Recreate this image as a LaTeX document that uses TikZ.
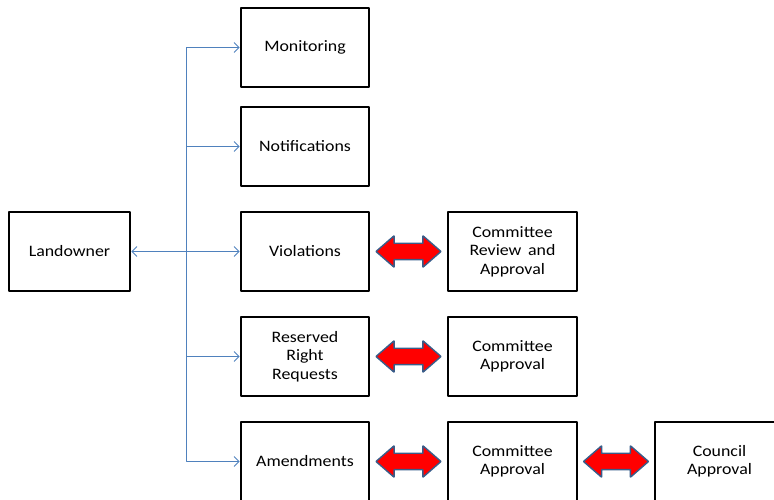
\documentclass[tikz,border=0pt]{standalone}
\usepackage{fontspec}
\setmainfont{Carlito}[FakeStretch=1.12]
\usepackage{tikz}
\usetikzlibrary{arrows,arrows.meta,shapes}

\definecolor{linkblue}{RGB}{79,129,189}
\definecolor{edgeblue}{RGB}{56,93,138}

\begin{document}
\begin{tikzpicture}[>={Straight Barb[length=5bp,width=10bp]},line join=bevel,
  box/.style={draw,line width=1.6bp,minimum width=128bp,minimum height=79bp,
    align=center,inner sep=0pt,font=\fontsize{16}{18.5}\selectfont},
  link/.style={->,linkblue,line width=0.9bp,shorten >=0.5bp},
  both/.style={double arrow,draw=edgeblue,fill=red,line width=1.4bp,
    minimum height=65bp,inner xsep=0pt,inner ysep=7.5bp,double arrow head extend=7.5bp,
    double arrow tip angle=82},]
\useasboundingbox (0bp,0bp) rectangle (774bp,500bp);
%%
\node (land) at (69.5bp,248.5bp) [box,minimum width=121bp] {Landowner};
  \node (mon) at (305.0bp,452.5bp) [box] {Monitoring};
  \node (noti) at (305.0bp,353.5bp) [box] {Notifications};
  \node (viol) at (305.0bp,248.5bp) [box] {Violations};
  \node (resv) at (305.0bp,143.5bp) [box] {Reserved\\Right\\Requests};
  \node (amend) at (305.0bp,38.5bp) [box] {Amendments};
  \node (crev) at (512.5bp,248.5bp) [box,minimum width=129bp] {Committee\\Review\, and\\Approval};
  \node (capp) at (512.5bp,143.5bp) [box,minimum width=129bp] {Committee\\Approval};
  \node (camd) at (512.5bp,38.5bp) [box,minimum width=129bp] {Committee\\Approval};
  \node (coun) at (719.5bp,38.5bp) [box,minimum width=129bp] {Council\\Approval};
  \coordinate (bus) at (186.0bp,248.5bp);
  \draw [link] (bus) |- (mon);
  \draw [link] (bus) |- (noti);
  \draw [link] (bus) -- (viol);
  \draw [link] (bus) |- (resv);
  \draw [link] (bus) |- (amend);
  \draw [link] (bus) -- (land);
  \node (va) at (408.5bp,248.5bp) [both] {};
  \node (ra) at (408.5bp,143.5bp) [both] {};
  \node (aa) at (408.5bp,38.5bp) [both] {};
  \node (ca) at (616.0bp,38.5bp) [both] {};
%
\end{tikzpicture}
\end{document}
